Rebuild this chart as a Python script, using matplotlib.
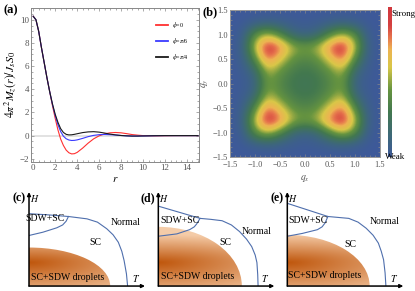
import numpy as np
import matplotlib.pyplot as plt
from matplotlib.colors import LinearSegmentedColormap
from matplotlib.patches import Ellipse
from matplotlib.ticker import AutoMinorLocator

plt.rcParams['font.family'] = ['Liberation Serif', 'DejaVu Serif']
plt.rcParams['mathtext.fontset'] = 'stix'

# ---- (a) radial profile of M_z(r) ----
r = [0, 0.25, 0.5, 0.75, 1, 1.25, 1.5, 1.75, 2, 2.25, 2.5, 2.75, 3, 3.25, 3.5, 3.75,
     4, 4.5, 5, 5.5, 6, 6.5, 7, 7.5, 8, 8.5, 9, 9.5, 10, 11, 12, 13, 14, 15]
m_phi0 = [10.3, 10.0, 9.0, 7.6, 6.3, 5.0, 3.8, 2.6, 1.5, 0.5, -0.3, -0.85, -1.25, -1.48,
          -1.58, -1.56, -1.45, -1.08, -0.65, -0.28, -0.02, 0.15, 0.24, 0.27, 0.24, 0.17,
          0.09, 0.04, 0.0, -0.02, -0.01, 0, 0, 0]
m_phi30 = [10.3, 10.0, 9.0, 7.6, 6.3, 5.0, 3.8, 2.7, 1.75, 0.95, 0.35, -0.05, -0.27, -0.38,
           -0.42, -0.41, -0.37, -0.24, -0.09, 0.02, 0.08, 0.1, 0.08, 0.05, 0.01, -0.02,
           -0.04, -0.04, -0.03, -0.01, 0, 0, 0, 0]
m_phi45 = [10.3, 10.0, 9.0, 7.6, 6.3, 5.0, 3.8, 2.75, 1.85, 1.15, 0.6, 0.27, 0.11, 0.06,
           0.07, 0.11, 0.16, 0.26, 0.32, 0.34, 0.3, 0.22, 0.13, 0.06, 0.01, -0.02,
           -0.04, -0.04, -0.03, -0.01, 0, 0, 0, 0]
legend_labels = [r'$\phi$=0', r'$\phi$=$\pi$/6', r'$\phi$=$\pi$/4']

# ---- (b) intensity map, sampled on q = -1.5 ... 1.5 (step 0.25) ----
q = [-1.5, -1.25, -1.0, -0.75, -0.5, -0.25, 0.0, 0.25, 0.5, 0.75, 1.0, 1.25, 1.5]
intensity = [
    [0.0, 0.0, 0.0, 0.0, 0.0, 0.0, 0.0, 0.0, 0.0, 0.0, 0.0, 0.0, 0.0],
    [0.0, 0.01, 0.04, 0.07, 0.05, 0.03, 0.02, 0.03, 0.05, 0.07, 0.04, 0.01, 0.0],
    [0.0, 0.04, 0.42, 0.58, 0.38, 0.15, 0.08, 0.15, 0.38, 0.58, 0.42, 0.04, 0.0],
    [0.0, 0.07, 0.60, 1.00, 0.85, 0.56, 0.48, 0.56, 0.85, 1.00, 0.60, 0.07, 0.0],
    [0.0, 0.05, 0.38, 0.85, 0.63, 0.42, 0.37, 0.42, 0.63, 0.85, 0.38, 0.05, 0.0],
    [0.0, 0.03, 0.15, 0.56, 0.42, 0.32, 0.29, 0.32, 0.42, 0.56, 0.15, 0.03, 0.0],
    [0.0, 0.02, 0.08, 0.48, 0.37, 0.29, 0.27, 0.29, 0.37, 0.48, 0.08, 0.02, 0.0],
    [0.0, 0.03, 0.15, 0.56, 0.42, 0.32, 0.29, 0.32, 0.42, 0.56, 0.15, 0.03, 0.0],
    [0.0, 0.05, 0.38, 0.85, 0.63, 0.42, 0.37, 0.42, 0.63, 0.85, 0.38, 0.05, 0.0],
    [0.0, 0.07, 0.60, 1.00, 0.85, 0.56, 0.48, 0.56, 0.85, 1.00, 0.60, 0.07, 0.0],
    [0.0, 0.04, 0.42, 0.58, 0.38, 0.15, 0.08, 0.15, 0.38, 0.58, 0.42, 0.04, 0.0],
    [0.0, 0.01, 0.04, 0.07, 0.05, 0.03, 0.02, 0.03, 0.05, 0.07, 0.04, 0.01, 0.0],
    [0.0, 0.0, 0.0, 0.0, 0.0, 0.0, 0.0, 0.0, 0.0, 0.0, 0.0, 0.0, 0.0],
]

# ---- (c)-(e) schematic phase diagrams (axes scaled 0..1) ----
c_top_x = [0, 0.17, 0.34, 0.50, 0.59, 0.67, 0.725, 0.77, 0.80, 0.82, 0.84, 0.85]
c_top_y = [0.77, 0.757, 0.74, 0.715, 0.68, 0.61, 0.545, 0.466, 0.37, 0.27, 0.13, 0]
c_low_x = [0, 0.12, 0.24, 0.29, 0.32, 0.34]
c_low_y = [0.538, 0.573, 0.62, 0.65, 0.69, 0.74]
c_drop = (0.70, 0.41)

d_top_x = [0, 0.36, 0.45, 0.55, 0.63, 0.70, 0.76, 0.805, 0.835, 0.85, 0.857, 0.86]
d_top_y = [0.85, 0.72, 0.71, 0.695, 0.65, 0.58, 0.50, 0.42, 0.33, 0.25, 0.12, 0]
d_low_x = [0, 0.16, 0.27, 0.31, 0.33, 0.36]
d_low_y = [0.53, 0.555, 0.60, 0.63, 0.66, 0.72]
d_drop = (0.72, 0.63)

e_top_x = [0, 0.35, 0.44, 0.53, 0.61, 0.68, 0.74, 0.785, 0.81, 0.83, 0.843, 0.85]
e_top_y = [0.88, 0.74, 0.73, 0.72, 0.68, 0.615, 0.54, 0.457, 0.37, 0.28, 0.14, 0]
e_low_x = [0, 0.13, 0.26, 0.30, 0.325, 0.35]
e_low_y = [0.53, 0.56, 0.60, 0.63, 0.67, 0.74]
e_drop = (0.71, 0.545)

fig = plt.figure(figsize=(4.15, 2.91), dpi=100)
gray = '#555555'

# panel (a)
ax = fig.add_axes([0.0747, 0.444, 0.405, 0.528])
ax.axhline(0, color='#dddddd', lw=1.2, zorder=0)
ax.plot(r, m_phi0, color='#ff3030', lw=0.8, label=legend_labels[0])
ax.plot(r, m_phi30, color='#3a3aff', lw=0.8, label=legend_labels[1])
ax.plot(r, m_phi45, color='#1a1a1a', lw=0.8, label=legend_labels[2])
ax.set_xlim(-0.2, 15.1)
ax.set_ylim(-2.26, 11.0)
ax.set_xticks(range(0, 15, 2))
ax.set_yticks(range(-2, 11, 2))
ax.xaxis.set_minor_locator(AutoMinorLocator(4))
ax.yaxis.set_minor_locator(AutoMinorLocator(4))
ax.tick_params(which='both', direction='in', top=True, right=True, colors='#888888',
               labelcolor=gray, labelsize=6.5, width=0.5, pad=1.5)
ax.tick_params(which='major', length=2.5)
ax.tick_params(which='minor', length=1.3)
for s in ax.spines.values():
    s.set_color('#888888')
    s.set_linewidth(0.7)
ax.set_yticklabels(['\u22122', '0', '2', '4', '6', '8', '10'])
ax.set_xlabel('$r$', fontsize=8, labelpad=2)
ax.set_ylabel(r'$4\pi^2 M_z(r)/J_sS_0$', fontsize=8.5, labelpad=1)
leg = ax.legend(loc='upper right', bbox_to_anchor=(0.955, 0.94), frameon=False,
                fontsize=4.3, handlelength=2.0, labelspacing=0.95, borderpad=0,
                handletextpad=0.6)
for line in leg.get_lines():
    line.set_linewidth(1.3)
fig.text(0.008, 0.955, '(a)', fontsize=9, fontweight='bold')

# panel (b)
heat = LinearSegmentedColormap.from_list('heat', [
    (0.0, (0.24, 0.35, 0.60)), (0.12, (0.24, 0.40, 0.49)), (0.3, (0.26, 0.47, 0.31)),
    (0.45, (0.40, 0.58, 0.25)), (0.6, (0.85, 0.78, 0.28)), (0.72, (0.93, 0.70, 0.32)),
    (0.8, (0.90, 0.45, 0.30)), (0.88, (0.83, 0.25, 0.25)), (1.0, (0.82, 0.22, 0.24))])
bx = fig.add_axes([0.554, 0.4605, 0.361, 0.505])
im = bx.imshow(np.array(intensity), origin='lower', cmap=heat, vmin=0, vmax=1,
               extent=(q[0] - 0.125, q[-1] + 0.125, q[0] - 0.125, q[-1] + 0.125),
               interpolation='bicubic', aspect='auto')
bx.set_xlim(-1.5, 1.5)
bx.set_ylim(-1.5, 1.5)
ticks = [-1.5, -1.0, -0.5, 0.0, 0.5, 1.0, 1.5]
tlabels = [f'{t:.1f}'.replace('-', '\u2212') for t in ticks]
bx.set_xticks(ticks)
bx.set_yticks(ticks)
bx.set_xticklabels(tlabels)
bx.set_yticklabels(tlabels)
bx.xaxis.set_minor_locator(AutoMinorLocator(5))
bx.yaxis.set_minor_locator(AutoMinorLocator(5))
bx.tick_params(which='both', direction='in', top=True, right=True, colors='#888888',
               labelcolor=gray, labelsize=6, width=0.5, pad=1.5)
bx.tick_params(axis='x', which='major', pad=3)
bx.tick_params(which='major', length=2.5)
bx.tick_params(which='minor', length=1.3)
for s in bx.spines.values():
    s.set_color('#999999')
    s.set_linewidth(0.7)
bx.set_xlabel('$q_x$', fontsize=7, color=gray, labelpad=3)
bx.set_ylabel('$q_y$', fontsize=7, color=gray, labelpad=1)
fig.text(0.488, 0.948, '(b)', fontsize=9, fontweight='bold')

cax = fig.add_axes([0.935, 0.4605, 0.0096, 0.515])
cb = fig.colorbar(im, cax=cax, ticks=[])
cb.outline.set_visible(False)
fig.text(0.944, 0.952, 'Strong', fontsize=6.5, va='center')
fig.text(0.928, 0.46, 'Weak', fontsize=6.5, va='center')

# panels (c)-(e)
drop_cmap = LinearSegmentedColormap.from_list('drop', [(0.75, 0.34, 0.05), (0.96, 0.80, 0.66)])
line_col = '#4f6fad'
panels = [
    ('(c)', 0.0699, c_top_x, c_top_y, c_low_x, c_low_y, c_drop,
     (0.14, 0.72), (0.83, 0.68), (0.57, 0.466), (0.33, 0.09)),
    ('(d)', 0.3815, d_top_x, d_top_y, d_low_x, d_low_y, d_drop,
     (0.19, 0.70), (0.85, 0.58), (0.575, 0.46), (0.335, 0.10)),
    ('(e)', 0.6923, e_top_x, e_top_y, e_low_x, e_low_y, e_drop,
     (0.18, 0.70), (0.84, 0.685), (0.54, 0.44), (0.325, 0.11)),
]
for lab, left, tx, ty, lx, ly, drop, p_sdw, p_norm, p_sc, p_drop in panels:
    pax = fig.add_axes([left, 0.017, 0.2795, 0.323])
    pax.set_xlim(0, 1)
    pax.set_ylim(0, 1)
    pax.axis('off')
    a, b = drop
    gx, gy = np.meshgrid(np.linspace(0, 1, 200), np.linspace(0, 1, 200))
    dy = np.where(gy > 0.25, (gy - 0.25) / 0.3, (0.25 - gy) / 0.4)
    shade = np.clip(np.hypot(0.5 * gx / a, dy), 0, 1)
    img = pax.imshow(shade, origin='lower', extent=(0, 1, 0, 1), cmap=drop_cmap,
                     vmin=0, vmax=1, aspect='auto', zorder=1)
    ell = Ellipse((0, 0), 2 * a, 2 * b, transform=pax.transData, facecolor='none',
                  edgecolor='none')
    pax.add_patch(ell)
    img.set_clip_path(ell)
    pax.plot(tx, ty, color=line_col, lw=0.8, zorder=3)
    pax.plot(lx, ly, color=line_col, lw=0.8, zorder=3)
    pax.annotate('', xy=(1.0, 0), xytext=(0, 0), annotation_clip=False,
                 arrowprops=dict(arrowstyle='-|>', lw=1.1, color='k', mutation_scale=5,
                                 shrinkA=0, shrinkB=0), zorder=4)
    pax.annotate('', xy=(0, 1.0), xytext=(0, 0), annotation_clip=False,
                 arrowprops=dict(arrowstyle='-|>', lw=1.1, color='k', mutation_scale=5,
                                 shrinkA=0, shrinkB=0), zorder=4)
    kw = dict(fontsize=7, ha='center', va='center', zorder=5)
    pax.text(*p_sdw, 'SDW+SC', **kw)
    pax.text(*p_norm, 'Normal', **kw)
    pax.text(*p_sc, 'SC', **kw)
    pax.text(*p_drop, 'SC+SDW droplets', **kw)
    pax.text(0.92, 0.08, '$T$', **kw)
    pax.text(0.05, 0.93, '$H$', **kw)
    pax.text(-0.03, 0.93, lab, fontsize=8.5, fontweight='bold', ha='right', va='center')

fig.savefig('out.png', dpi=100)
